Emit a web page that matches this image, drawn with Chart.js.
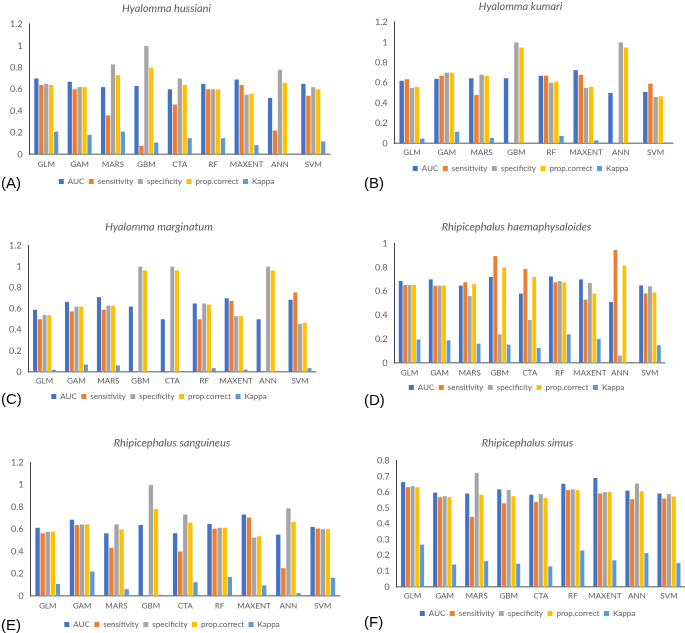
<!DOCTYPE html>
<html>
<head>
<meta charset="utf-8">
<script src="https://cdn.jsdelivr.net/npm/chart.js@4.4.0/dist/chart.umd.min.js"></script>
<style>
  html, body { margin: 0; padding: 0; background: #fff; }
  body { width: 685px; height: 633px; position: relative; overflow: hidden; font-family: "Liberation Sans", Arial, sans-serif; }
  .panel { position: absolute; }
  .lbl { position: absolute; font-size: 15px; color: #000; font-family: "Liberation Sans", Arial, sans-serif; }
</style>
</head>
<body>
<div class="panel" style="left:0px;top:0px;width:338px;height:196px"><canvas id="cA"></canvas></div>
<div class="panel" style="left:343px;top:0px;width:338px;height:183px"><canvas id="cB"></canvas></div>
<div class="panel" style="left:0px;top:215px;width:324px;height:196px"><canvas id="cC"></canvas></div>
<div class="panel" style="left:343px;top:215px;width:330px;height:187px"><canvas id="cD"></canvas></div>
<div class="panel" style="left:0px;top:430px;width:342px;height:209px"><canvas id="cE"></canvas></div>
<div class="panel" style="left:343px;top:430px;width:342px;height:198px"><canvas id="cF"></canvas></div>
<div class="lbl" style="left:1px;top:174px">(A)</div>
<div class="lbl" style="left:364px;top:174px">(B)</div>
<div class="lbl" style="left:1px;top:390px">(C)</div>
<div class="lbl" style="left:364px;top:391px">(D)</div>
<div class="lbl" style="left:1px;top:616px">(E)</div>
<div class="lbl" style="left:364px;top:613px">(F)</div>
<script>
const seriesNames = ["AUC", "sensitivity", "specificity", "prop.correct", "Kappa"];
const seriesColors = ["#4472C4", "#ED7D31", "#A5A5A5", "#FFC000", "#5B9BD5"];

const models9 = ["GLM", "GAM", "MARS", "GBM", "CTA", "RF", "MAXENT", "ANN", "SVM"];
const models8 = ["GLM", "GAM", "MARS", "GBM", "RF", "MAXENT", "ANN", "SVM"];

// (A) Hyalomma hussiani
const aucA  = [0.70, 0.67, 0.62, 0.63, 0.60, 0.65, 0.69, 0.52, 0.65];
const sensA = [0.64, 0.60, 0.36, 0.08, 0.46, 0.60, 0.64, 0.22, 0.54];
const specA = [0.65, 0.62, 0.83, 1.00, 0.70, 0.60, 0.55, 0.78, 0.62];
const propA = [0.64, 0.62, 0.73, 0.80, 0.64, 0.60, 0.56, 0.66, 0.60];
const kapA  = [0.21, 0.18, 0.21, 0.11, 0.15, 0.15, 0.085, 0, 0.12];

// (B) Hyalomma kumari
const aucB  = [0.62, 0.64, 0.645, 0.645, 0.67, 0.725, 0.50, 0.51];
const sensB = [0.635, 0.67, 0.48, 0, 0.67, 0.68, 0, 0.59];
const specB = [0.55, 0.70, 0.68, 1.00, 0.60, 0.55, 1.00, 0.46];
const propB = [0.56, 0.70, 0.67, 0.95, 0.61, 0.56, 0.95, 0.465];
const kapB  = [0.047, 0.115, 0.054, 0, 0.074, 0.03, 0, 0.01];

// (C) Hyalomma marginatum
const aucC  = [0.59, 0.665, 0.71, 0.62, 0.50, 0.65, 0.70, 0.50, 0.685];
const sensC = [0.50, 0.575, 0.59, 0, 0, 0.50, 0.675, 0, 0.755];
const specC = [0.54, 0.62, 0.63, 1.00, 1.00, 0.65, 0.53, 1.00, 0.455];
const propC = [0.54, 0.62, 0.63, 0.965, 0.965, 0.64, 0.53, 0.965, 0.467];
const kapC  = [0.02, 0.07, 0.062, 0, 0, 0.036, 0.022, 0, 0.036];

// (D) Rhipicephalus haemaphysaloides
const aucD  = [0.687, 0.70, 0.648, 0.72, 0.582, 0.724, 0.70, 0.51, 0.65];
const sensD = [0.653, 0.648, 0.676, 0.895, 0.787, 0.676, 0.53, 0.946, 0.582];
const specD = [0.653, 0.648, 0.56, 0.24, 0.36, 0.687, 0.67, 0.062, 0.642];
const propD = [0.653, 0.648, 0.66, 0.80, 0.72, 0.676, 0.582, 0.815, 0.59];
const kapD  = [0.196, 0.19, 0.162, 0.153, 0.125, 0.24, 0.20, 0.008, 0.148];

// (E) Rhipicephalus sanguineus
const aucE  = [0.613, 0.687, 0.564, 0.638, 0.564, 0.647, 0.733, 0.552, 0.62];
const sensE = [0.564, 0.638, 0.432, 0.006, 0.40, 0.604, 0.706, 0.25, 0.607];
const specE = [0.577, 0.644, 0.644, 1.00, 0.733, 0.613, 0.525, 0.788, 0.60];
const propE = [0.577, 0.644, 0.598, 0.782, 0.66, 0.613, 0.537, 0.666, 0.60];
const kapE  = [0.107, 0.22, 0.061, 0.01, 0.123, 0.17, 0.095, 0.025, 0.163];

// (F) Rhipicephalus simus
const aucF  = [0.664, 0.597, 0.592, 0.618, 0.584, 0.653, 0.69, 0.61, 0.592];
const sensF = [0.631, 0.569, 0.443, 0.53, 0.538, 0.614, 0.592, 0.556, 0.56];
const specF = [0.638, 0.575, 0.722, 0.614, 0.588, 0.618, 0.60, 0.655, 0.588];
const propF = [0.631, 0.569, 0.584, 0.575, 0.564, 0.614, 0.60, 0.605, 0.573];
const kapF  = [0.268, 0.143, 0.164, 0.147, 0.13, 0.231, 0.169, 0.214, 0.151];

const yTicksA = [0, 0.2, 0.4, 0.6, 0.8, 1, 1.2];
const yTicksD = [0, 0.1, 0.2, 0.3, 0.4, 0.5, 0.6, 0.7, 0.8, 0.9, 1];
const yTicksF = [0, 0.1, 0.2, 0.3, 0.4, 0.5, 0.6, 0.7, 0.8];

const FONT = "Lato, 'Open Sans', sans-serif";
const GREY = "#595959";

function makePanel(id, title, cats, series, yTicks, pad) {
  const datasets = series.map((vals, i) => ({
    label: seriesNames[i],
    data: vals,
    backgroundColor: seriesColors[i],
    borderWidth: 0,
    categoryPercentage: 0.74,
    barPercentage: 0.86
  }));
  new Chart(document.getElementById(id), {
    type: "bar",
    data: { labels: cats, datasets: datasets },
    options: {
      responsive: true,
      maintainAspectRatio: false,
      animation: false,
      devicePixelRatio: 2,
      layout: { padding: pad.layout },
      plugins: {
        title: {
          display: true,
          text: title,
          color: GREY,
          font: { family: FONT, size: 11, style: "italic", weight: "normal" },
          padding: { top: 0, bottom: pad.titleGap }
        },
        legend: {
          position: "bottom",
          labels: {
            color: GREY,
            font: { family: FONT, size: 8 },
            boxWidth: 5,
            boxHeight: 5,
            padding: 4.5
          }
        },
        tooltip: { enabled: false }
      },
      scales: {
        x: {
          grid: { display: false, drawTicks: false },
          border: { display: true, color: "#8c8c8c", width: 1.5 },
          ticks: { color: GREY, font: { family: FONT, size: 8 }, padding: pad.xTickPad, maxRotation: 0, autoSkip: false },
          afterFit: (axis) => { axis.height += pad.xExtra; }
        },
        y: {
          min: yTicks[0],
          max: yTicks[yTicks.length - 1],
          grid: { display: false, drawTicks: false },
          border: { display: true, color: "#404040", width: 1 },
          afterBuildTicks: (axis) => { axis.ticks = yTicks.map(v => ({ value: v })); },
          ticks: {
            color: GREY,
            font: { family: FONT, size: 9 },
            padding: 7,
            callback: (v) => String(Math.round(v * 10) / 10)
          }
        }
      }
    }
  });
}

makePanel("cA", "Hyalomma hussiani", models9, [aucA, sensA, specA, propA, kapA], yTicksA,
  { layout: { left: 3, right: 8, top: 2, bottom: 0.5 }, titleGap: 9, xTickPad: 5, xExtra: -1 });
makePanel("cB", "Hyalomma kumari", models8, [aucB, sensB, specB, propB, kapB], yTicksA,
  { layout: { left: 25, right: 8, top: 0, bottom: 0.5 }, titleGap: 9, xTickPad: 4, xExtra: -1 });
makePanel("cC", "Hyalomma marginatum", models9, [aucC, sensC, specC, propC, kapC], yTicksA,
  { layout: { left: 2, right: 8, top: 5.4, bottom: 0.5 }, titleGap: 12, xTickPad: 4, xExtra: -1.5 });
makePanel("cD", "Rhipicephalus haemaphysaloides", models9, [aucD, sensD, specD, propD, kapD], yTicksD,
  { layout: { left: 25, right: 8, top: 5.4, bottom: 0.5 }, titleGap: 10, xTickPad: 5, xExtra: -3.5 });
makePanel("cE", "Rhipicephalus sanguineus", models9, [aucE, sensE, specE, propE, kapE], yTicksA,
  { layout: { left: 4, right: 2, top: 6.4, bottom: 0.5 }, titleGap: 13, xTickPad: 5, xExtra: 0.5 });
makePanel("cF", "Rhipicephalus simus", models9, [aucF, sensF, specF, propF, kapF], yTicksF,
  { layout: { left: 27, right: 0, top: 6.4, bottom: 0.5 }, titleGap: 11, xTickPad: 4, xExtra: 0.5 });
</script>
</body>
</html>
